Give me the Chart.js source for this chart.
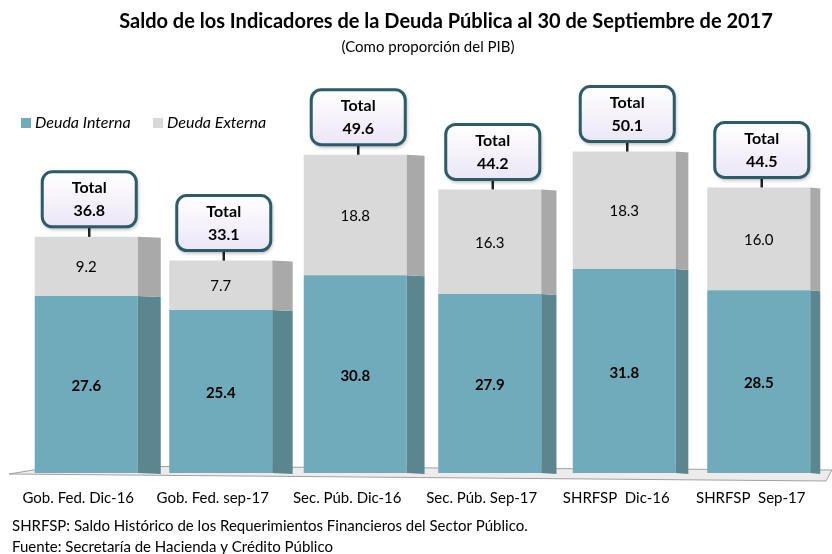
<!DOCTYPE html>
<html>
<head>
<meta charset="utf-8">
<script src="https://cdn.jsdelivr.net/npm/chart.js@4/dist/chart.umd.min.js"></script>
<style>
  html, body { margin: 0; padding: 0; background: #fff; }
  #wrap { width: 832px; height: 554px; position: relative; }
</style>
</head>
<body>
<div id="wrap"><canvas id="chart"></canvas></div>
<script>
// --- Datos ---
const categories = ["Gob. Fed. Dic-16", "Gob. Fed. sep-17", "Sec. Púb. Dic-16", "Sec. Púb. Sep-17", "SHRFSP  Dic-16", "SHRFSP  Sep-17"];
const deudaInterna = [27.6, 25.4, 30.8, 27.9, 31.8, 28.5];
const deudaExterna = [9.2, 7.7, 18.8, 16.3, 18.3, 16.0];
const totales = [36.8, 33.1, 49.6, 44.2, 50.1, 44.5];

const titulo = "Saldo de los Indicadores de la Deuda Pública al 30 de Septiembre de 2017";
const subtitulo = "(Como proporción del PIB)";
const notas = [
  "SHRFSP: Saldo Histórico de los Requerimientos Financieros del Sector Público.",
  "Fuente: Secretaría de Hacienda y Crédito Público"
];

const FONT = "Lato, 'Open Sans', sans-serif";
const colInterna = "#70abbb", sideInterna = "#5a868f";
const colExterna = "#d9d9d9", sideExterna = "#a9a9a9";

function roundRect(ctx, x, y, w, h, r) {
  ctx.beginPath();
  ctx.moveTo(x + r, y);
  ctx.arcTo(x + w, y, x + w, y + h, r);
  ctx.arcTo(x + w, y + h, x, y + h, r);
  ctx.arcTo(x, y + h, x, y, r);
  ctx.arcTo(x, y, x + w, y, r);
  ctx.closePath();
}

// --- Piso, caras laterales, etiquetas, títulos ---
const decoPlugin = {
  id: "deco",
  beforeDatasetsDraw(chart) {
    const ctx = chart.ctx;
    const base = chart.scales.y.getPixelForValue(0);
    ctx.save();
    ctx.beginPath();
    ctx.moveTo(9, base + 1);
    ctx.lineTo(58, base - 7);
    ctx.lineTo(832, base - 3);
    ctx.lineTo(826, base + 8);
    ctx.closePath();
    ctx.fillStyle = "#ececec";
    ctx.fill();
    ctx.strokeStyle = "#a0a0a0";
    ctx.lineWidth = 1;
    ctx.stroke();
    ctx.restore();
  },
  afterDatasetsDraw(chart) {
    const ctx = chart.ctx;
    const sides = [sideInterna, sideExterna];
    ctx.save();
    // caras laterales
    chart.data.datasets.forEach((ds, di) => {
      chart.getDatasetMeta(di).data.forEach((bar, i) => {
        const right = bar.x + bar.width / 2;
        const depth = 23 - 2.6 * i;
        ctx.fillStyle = sides[di];
        ctx.beginPath();
        ctx.moveTo(right, bar.y);
        ctx.lineTo(right + depth, bar.y + 1);
        ctx.lineTo(right + depth, bar.base + 1);
        ctx.lineTo(right, bar.base);
        ctx.closePath();
        ctx.fill();
      });
    });
    // valores dentro de las barras
    ctx.textAlign = "center";
    ctx.textBaseline = "middle";
    ctx.fillStyle = "#000";
    chart.getDatasetMeta(0).data.forEach((bar, i) => {
      ctx.font = "bold 15px " + FONT;
      ctx.fillText(deudaInterna[i].toFixed(1), bar.x, (bar.y + bar.base) / 2 + 2);
    });
    chart.getDatasetMeta(1).data.forEach((bar, i) => {
      ctx.font = "15px " + FONT;
      ctx.fillText(deudaExterna[i].toFixed(1), bar.x, (bar.y + bar.base) / 2 + 1);
    });
    // recuadros de total
    chart.getDatasetMeta(1).data.forEach((bar, i) => {
      const top = chart.scales.y.getPixelForValue(totales[i]);
      const cx = bar.x + 3, w = 94, h = 55;
      const bx = cx - w / 2, by = top - 10 - h;
      ctx.strokeStyle = "#222";
      ctx.lineWidth = 2.5;
      ctx.beginPath();
      ctx.moveTo(cx, by + h);
      ctx.lineTo(cx, top);
      ctx.stroke();
      ctx.save();
      ctx.shadowColor = "rgba(0,0,0,0.4)";
      ctx.shadowBlur = 4;
      ctx.shadowOffsetX = 1;
      ctx.shadowOffsetY = 2;
      roundRect(ctx, bx, by, w, h, 10);
      const g = ctx.createLinearGradient(0, by, 0, by + h);
      g.addColorStop(0, "#ffffff");
      g.addColorStop(1, "#ece6f6");
      ctx.fillStyle = g;
      ctx.fill();
      ctx.restore();
      roundRect(ctx, bx, by, w, h, 10);
      ctx.strokeStyle = "#2c5c68";
      ctx.lineWidth = 3;
      ctx.stroke();
      ctx.fillStyle = "#000";
      ctx.font = "bold 16px " + FONT;
      ctx.fillText("Total", cx, by + 16);
      ctx.fillText(totales[i].toFixed(1), cx, by + 39);
    });
    ctx.restore();
  },
  afterDraw(chart) {
    const ctx = chart.ctx;
    ctx.save();
    ctx.fillStyle = "#000";
    ctx.textBaseline = "middle";
    ctx.textAlign = "center";
    ctx.font = "bold 20px " + FONT;
    ctx.fillText(titulo, 446, 22);
    ctx.font = "15px " + FONT;
    ctx.fillText(subtitulo, 428, 47);
    // leyenda
    ctx.textAlign = "left";
    let lx = 21;
    chart.data.datasets.forEach(ds => {
      ctx.fillStyle = ds.backgroundColor;
      ctx.fillRect(lx, 118, 10, 10);
      ctx.fillStyle = "#000";
      ctx.font = "italic 16px " + FONT;
      ctx.fillText(ds.label, lx + 14, 123);
      lx += 132;
    });
    // notas
    ctx.font = "15px " + FONT;
    ctx.fillText(notas[0], 12, 526);
    ctx.fillText(notas[1], 12, 547);
    ctx.restore();
  }
};

new Chart(document.getElementById("chart"), {
  type: "bar",
  data: {
    labels: categories,
    datasets: [
      { label: "Deuda Interna", data: deudaInterna, backgroundColor: colInterna },
      { label: "Deuda Externa", data: deudaExterna, backgroundColor: colExterna }
    ]
  },
  options: {
    responsive: true,
    maintainAspectRatio: false,
    animation: false,
    layout: { padding: { top: 88, left: 19, right: 6, bottom: 31 } },
    categoryPercentage: 1,
    barPercentage: 0.766,
    plugins: {
      legend: { display: false },
      tooltip: { enabled: false }
    },
    scales: {
      x: {
        stacked: true,
        grid: { display: false, drawTicks: false },
        border: { display: false },
        ticks: { color: "#000", font: { family: FONT, size: 15 }, padding: 16, labelOffset: -8, maxRotation: 0 }
      },
      y: {
        stacked: true,
        display: false,
        min: 0,
        max: 60
      }
    }
  },
  plugins: [decoPlugin]
});
</script>
</body>
</html>
